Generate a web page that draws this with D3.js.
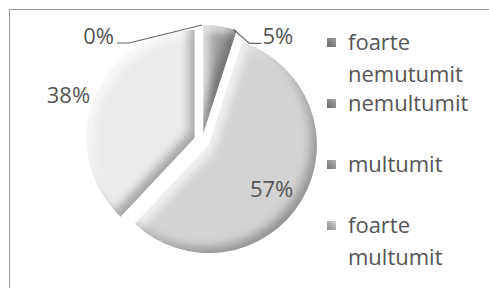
<!DOCTYPE html>
<html>
<head>
<meta charset="utf-8">
<script src="https://cdn.jsdelivr.net/npm/d3@7/dist/d3.min.js"></script>
<style>
  body { margin: 0; background: #fff; }
  text { font-family: "Open Sans", sans-serif; }
</style>
</head>
<body>
<svg id="chart"></svg>
<script>
var categories = ["foarte nemutumit", "nemultumit", "multumit", "foarte multumit"];
var values = [0, 5, 57, 38];
var pctLabels = ["0%", "5%", "57%", "38%"];
var sliceColors = ["#9a9a9a", "#a2a2a2", "#d3d3d3", "#ececec"];
var markerColors = ["#858585", "#8a8a8a", "#959595", "#b0b0b0"];

var width = 489, height = 288;
var cx = 202, cy = 141, radius = 108, explode = 8;
var textColor = "#555";

var svg = d3.select("#chart").attr("width", width).attr("height", height);

// chart frame (only top and left are visible in the picture)
svg.append("rect")
  .attr("x", 9.5).attr("y", 9.5)
  .attr("width", width + 20).attr("height", height + 20)
  .attr("fill", "#fff").attr("stroke", "#9c9c9c");

var defs = svg.append("defs");

// bevel-ish: dark inner edge toward lower right, light toward upper left
var f = defs.append("filter").attr("id", "bevel")
  .attr("x", "-10%").attr("y", "-10%").attr("width", "120%").attr("height", "120%");
f.append("feGaussianBlur").attr("in", "SourceAlpha").attr("stdDeviation", 5).attr("result", "blur");
f.append("feOffset").attr("in", "blur").attr("dx", -6).attr("dy", -6).attr("result", "offBlur");
f.append("feComposite").attr("in", "SourceAlpha").attr("in2", "offBlur")
  .attr("operator", "arithmetic").attr("k2", 1).attr("k3", -1).attr("result", "edge");
f.append("feFlood").attr("flood-color", "#000").attr("flood-opacity", 0.55);
f.append("feComposite").attr("in2", "edge").attr("operator", "in").attr("result", "shadow");
f.append("feOffset").attr("in", "blur").attr("dx", 5).attr("dy", 5).attr("result", "offBlur2");
f.append("feComposite").attr("in", "SourceAlpha").attr("in2", "offBlur2")
  .attr("operator", "arithmetic").attr("k2", 1).attr("k3", -1).attr("result", "edge2");
f.append("feFlood").attr("flood-color", "#fff").attr("flood-opacity", 0.7);
f.append("feComposite").attr("in2", "edge2").attr("operator", "in").attr("result", "light");
var merge = f.append("feMerge");
merge.append("feMergeNode").attr("in", "SourceGraphic");
merge.append("feMergeNode").attr("in", "light");
merge.append("feMergeNode").attr("in", "shadow");

markerColors.forEach(function(c, i) {
  var g = defs.append("linearGradient").attr("id", "mk" + i)
    .attr("x1", 0).attr("y1", 1).attr("x2", 1).attr("y2", 0);
  g.append("stop").attr("offset", "0%").attr("stop-color", d3.color(c).darker(0.7));
  g.append("stop").attr("offset", "100%").attr("stop-color", d3.color(c).brighter(0.5));
});

var data = categories.map(function(c, i) {
  return { cat: c, value: values[i], label: pctLabels[i], color: sliceColors[i] };
});

var pie = d3.pie().sort(null).value(function(d) { return d.value; });
var arcs = pie(data);
var arc = d3.arc().innerRadius(0).outerRadius(radius);

function offsetOf(a) {
  var m = (a.startAngle + a.endAngle) / 2;
  return [Math.sin(m) * explode, -Math.cos(m) * explode];
}

var g = svg.append("g").attr("transform", "translate(" + cx + "," + cy + ")");

g.selectAll(".slice")
  .data(arcs.filter(function(a) { return a.value > 0; }))
  .enter()
  .append("path")
  .attr("class", "slice")
  .attr("transform", function(a) { return "translate(" + offsetOf(a) + ")"; })
  .attr("d", arc)
  .attr("fill", function(a) { return a.data.color; })
  .attr("filter", "url(#bevel)");

// labels
arcs.forEach(function(a, i) {
  var off = offsetOf(a);
  var m = (a.startAngle + a.endAngle) / 2;
  var edge = [off[0] + Math.sin(m) * radius, off[1] - Math.cos(m) * radius];
  var t = g.append("text")
    .attr("font-size", 22)
    .attr("fill", textColor)
    .text(a.data.label);

  if (a.data.value === 0) {
    // leader to the left
    var elbow = [edge[0] - 73, edge[1] + 18];
    g.append("polyline")
      .attr("points", [edge, elbow, [elbow[0] - 12, elbow[1]]].join(" "))
      .attr("fill", "none").attr("stroke", "#666").attr("stroke-width", 1.2);
    t.attr("x", elbow[0] - 15).attr("y", elbow[1] + 1).attr("text-anchor", "end");
  } else if (a.data.value < 10) {
    var p0 = [off[0] + Math.sin(a.endAngle - 0.03) * radius, off[1] - Math.cos(a.endAngle - 0.03) * radius];
    var elbow2 = [p0[0] + 16, p0[1] + 14];
    g.append("polyline")
      .attr("points", [p0, elbow2, [elbow2[0] + 12, elbow2[1]]].join(" "))
      .attr("fill", "none").attr("stroke", "#666").attr("stroke-width", 1.2);
    t.attr("x", elbow2[0] + 13).attr("y", elbow2[1] + 1).attr("text-anchor", "start");
  } else if (a.data.value > 50) {
    var c = d3.arc().innerRadius(radius * 0.45).outerRadius(radius * 0.9).centroid(a);
    t.attr("x", c[0] + off[0]).attr("y", c[1] + off[1] + 15).attr("text-anchor", "middle");
  } else {
    t.attr("x", off[0] + Math.sin(m) * radius * 1.04).attr("y", off[1] - Math.cos(m) * radius * 1.04 + 6)
      .attr("text-anchor", "end");
  }
});

// legend
var legendX = 327, legendTop = 50, legendStep = 61, lineH = 32;
var maxW = width - legendX - 22;
var legend = svg.append("g");

categories.forEach(function(c, i) {
  var y = legendTop + i * legendStep;
  legend.append("rect")
    .attr("x", legendX).attr("y", y - 12)
    .attr("width", 9).attr("height", 9)
    .attr("fill", "url(#mk" + i + ")");
  var t = legend.append("text")
    .attr("x", legendX + 21).attr("y", y)
    .attr("font-size", 22).attr("fill", textColor);
  var words = c.split(" "), line = [];
  var span = t.append("tspan").attr("x", legendX + 21).attr("dy", 0);
  words.forEach(function(w) {
    line.push(w);
    span.text(line.join(" "));
    if (span.node().getComputedTextLength() > maxW && line.length > 1) {
      line.pop();
      span.text(line.join(" "));
      line = [w];
      span = t.append("tspan").attr("x", legendX + 21).attr("dy", lineH).text(w);
    }
  });
});
</script>
</body>
</html>
